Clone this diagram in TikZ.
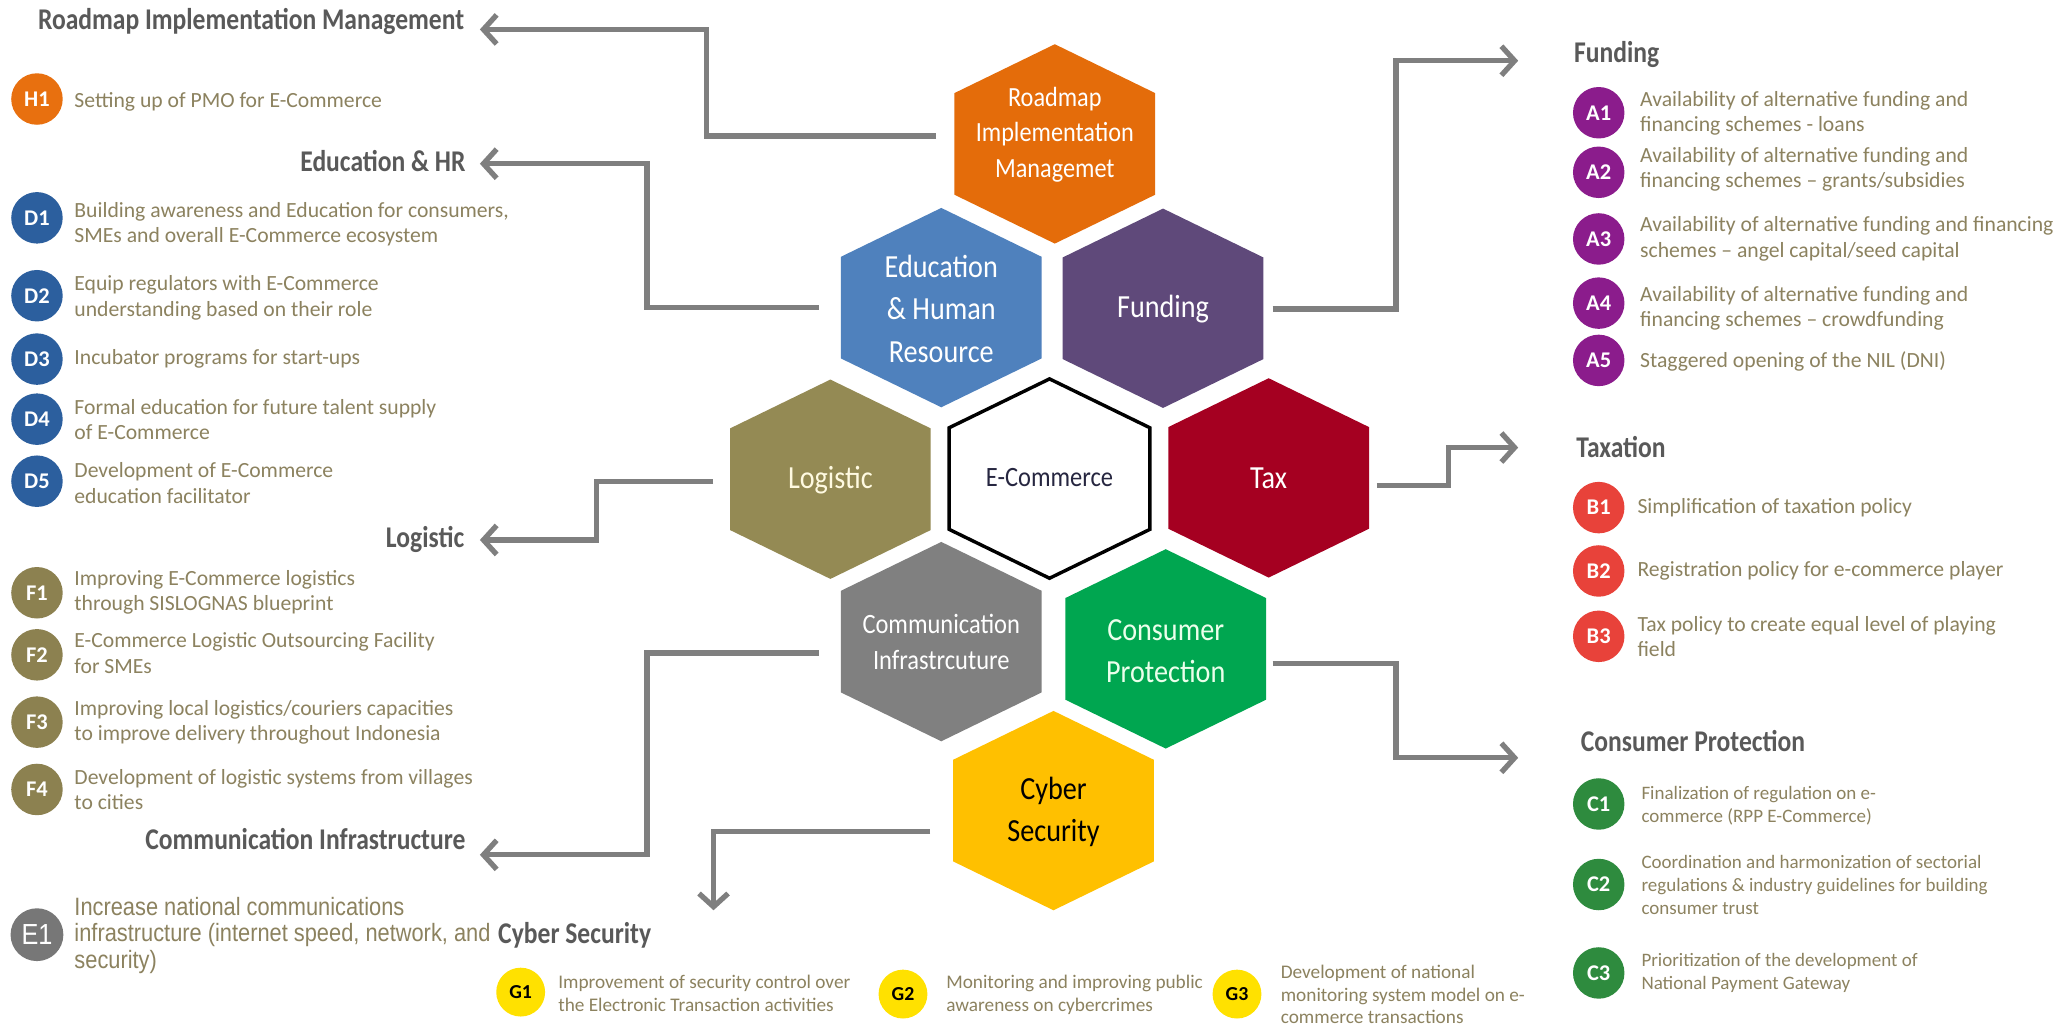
\documentclass[tikz,border=0pt]{standalone}
\usepackage{fontspec}
\setmainfont{Carlito}
\newfontfamily\hexf[FakeStretch=0.875]{Carlito}
\newfontfamily\headf[FakeStretch=0.85]{Carlito}
\newfontfamily\narrowf[FakeStretch=0.87]{Liberation Sans}
\usetikzlibrary{arrows.meta,calc}
\definecolor{horange}{HTML}{E46C0A}
\definecolor{hblue}{HTML}{4F81BD}
\definecolor{hpurple}{HTML}{5F497A}
\definecolor{holive}{HTML}{948A54}
\definecolor{hred}{HTML}{A50021}
\definecolor{hgray}{HTML}{808080}
\definecolor{hgreen}{HTML}{00A650}
\definecolor{hyellow}{HTML}{FFC000}
\definecolor{corange}{HTML}{E8700F}
\definecolor{cblue}{HTML}{2C5F9E}
\definecolor{colive}{HTML}{8C8150}
\definecolor{cgray}{HTML}{777777}
\definecolor{cpurple}{HTML}{8B1C8C}
\definecolor{cred}{HTML}{E8423A}
\definecolor{cgreen}{HTML}{2E8B3E}
\definecolor{cyellow}{HTML}{FFE100}
\definecolor{bodycol}{RGB}{140,130,95}
\definecolor{headcol}{HTML}{595959}
\definecolor{conngray}{HTML}{7F7F7F}
\definecolor{ecotext}{HTML}{262640}
\tikzset{
  hexa/.pic={\path[pic actions] (0,-75.5) -- (76,-38.5) -- (76,38.5) -- (0,75.5) -- (-76,38.5) -- (-76,-38.5) -- cycle;},
  hexlab/.style={minimum width=76pt, minimum height=75pt, inner sep=0pt, align=center},
  bigtxt/.style={font=\hexf\fontsize{12.2}{16}\selectfont},
  midtxt/.style={font=\hexf\fontsize{10.6}{13.6}\selectfont},
  conn/.style={draw=conngray, line width=2pt, -{Straight Barb[length=5pt,width=11pt]}},
  badge/.style={circle, fill=#1, minimum size=19.5pt, inner sep=0pt, text=white, font=\bfseries\fontsize{8.5}{9}\selectfont},
  gbadge/.style={circle, fill=cyellow, minimum size=18.5pt, inner sep=0pt, text=black, font=\bfseries\fontsize{7.5}{8}\selectfont},
  body/.style={anchor=west, align=left, inner sep=0pt, text=bodycol, font=\fontsize{8.2}{9.6}\selectfont},
  small/.style={body, font=\fontsize{7.2}{8.75}\selectfont},
  gtxt/.style={body, font=\fontsize{7.3}{8.5}\selectfont},
  head/.style={inner sep=0pt, text=headcol, font=\headf\bfseries\fontsize{11.4}{13}\selectfont},
}
\begin{document}
\begin{tikzpicture}[x=0.5pt,y=-0.5pt]
\fill[white] (0,0) rectangle (1568,778);
\useasboundingbox (0,0) rectangle (1568,778);

% hexagons
\pic[fill=horange] at (799,109) {hexa};
\node[hexlab, text=white, font=\hexf\fontsize{10.5}{13.6}\selectfont] (road) at (799,102) {Roadmap\\Implementation\\Managemet};
\pic[fill=hblue] at (713,233) {hexa};
\node[hexlab, bigtxt, text=white] (edu) at (713,234) {Education\\\&~Human\\Resource};
\pic[fill=hpurple] at (881,233.5) {hexa};
\node[hexlab, bigtxt, text=white] (fun) at (881,234) {Funding};
\pic[fill=holive] at (629,363) {hexa};
\node[hexlab, bigtxt, text={rgb,255:red,255;green,250;blue,225}] (log) at (629,364) {Logistic};
\pic[fill=white, draw=black, line width=1.3pt] at (795,362.5) {hexa};
\node[hexlab, midtxt, text=ecotext] (eco) at (795,362) {E-Commerce};
\pic[fill=hred] at (961,362) {hexa};
\node[hexlab, bigtxt, text=white] (tax) at (961,362) {Tax};
\pic[fill=hgray] at (713,486) {hexa};
\node[hexlab, midtxt, text=white] (com) at (713,486) {Communication\\Infrastrcuture};
\pic[fill=hgreen] at (883,491.5) {hexa};
\node[hexlab, bigtxt, text={rgb,255:red,235;green,255;blue,235}] (con) at (883,493) {Consumer\\Protection};
\pic[fill=hyellow] at (798,614) {hexa};
\node[hexlab, bigtxt, text=black] (cyb) at (798,615) {Cyber\\Security};

% titles
\node[head, anchor=base east] (troad) at (352,22.3) {Roadmap Implementation Management};
\node[head, anchor=base east] (tedu) at (353,129.9) {Education \& HR};
\node[head, anchor=base east] (tlog) at (352,414.4) {Logistic};
\node[head, anchor=base east] (tcom) at (353,643.4) {Communication Infrastructure};
\node[head, anchor=base west] (tcyb) at (377,714.4) {Cyber Security};
\node[head, anchor=base west] (tfun) at (1192,47.4) {Funding};
\node[head, anchor=base west] (ttax) at (1193.6,346.4) {Taxation};
\node[head, anchor=base west] (tcon) at (1197,569) {Consumer Protection};

% arrow tips
\coordinate (aroad) at (363.5,22.3);
\coordinate (aedu) at (363.5,124);
\coordinate (alog) at (363.5,409);
\coordinate (acom) at (363.5,647.5);
\coordinate (acyb) at (540.5,689.5);
\coordinate (afun) at (1150,46);
\coordinate (atax) at (1150,339);
\coordinate (acon) at (1150,574);

% connectors
\draw[conn] ($(road.west)+(-13.5,1)$) -| ($(aroad)+(171.5,0)$) -- (aroad);
\draw[conn] ($(edu.west)+(-16.3,-1)$) -| ($(aedu)+(126.5,0)$) -- (aedu);
\draw[conn] ($(log.west)+(-12.5,0.5)$) -| ($(alog)+(88.3,0)$) -- (alog);
\draw[conn] ($(com.west)+(-16.3,8.6)$) -| ($(acom)+(126.5,0)$) -- (acom);
\draw[conn] ($(cyb.west)+(-17,15)$) -| (acyb);
\draw[conn] ($(fun.east)+(6.5,0)$) -| ($(afun)+(-92.5,0)$) -- (afun);
\draw[conn] ($(tax.east)+(5.6,6)$) -| ($(atax)+(-52.6,0)$) -- (atax);
\draw[conn] ($(con.east)+(4.5,9.4)$) -| ($(acon)+(-92.5,0)$) -- (acon);

% left column
\node[badge=corange] (h1) at (28,75) {H1};
\node[body] (h1t) at (56,77) {Setting up of PMO for E-Commerce};
\node[badge=cblue] (d1) at (28,165) {D1};
\node[body] (d1t) at (56,170) {Building awareness and Education for consumers,\\SMEs and overall E-Commerce ecosystem};
\node[badge=cblue] (d2) at (28,224) {D2};
\node[body] (d2t) at (56,225.5) {Equip regulators with E-Commerce\\understanding based on their role};
\node[badge=cblue] (d3) at (28,272) {D3};
\node[body] (d3t) at (56,272) {Incubator programs for start-ups};
\node[badge=cblue] (d4) at (28,317.5) {D4};
\node[body] (d4t) at (56,318) {Formal education for future talent supply\\of E-Commerce};
\node[badge=cblue] (d5) at (28,364.5) {D5};
\node[body] (d5t) at (56,366) {Development of E-Commerce\\education facilitator};
\node[badge=colive] (f1) at (28,449) {F1};
\node[body] (f1t) at (56,448.5) {Improving E-Commerce logistics\\through SISLOGNAS blueprint};
\node[badge=colive] (f2) at (28,496) {F2};
\node[body] (f2t) at (56,494.8) {E-Commerce Logistic Outsourcing Facility\\for SMEs};
\node[badge=colive] (f3) at (28,547) {F3};
\node[body] (f3t) at (56,547) {Improving local logistics/couriers capacities\\to improve delivery throughout Indonesia};
\node[badge=colive] (f4) at (28,598) {F4};
\node[body] (f4t) at (56,598) {Development of logistic systems from villages\\to cities};
\node[circle, fill=cgray, minimum size=20pt, inner sep=0pt, text=white, font=\narrowf\fontsize{11}{12}\selectfont] (e1) at (28,708) {E1};
\node[body, font=\narrowf\fontsize{9.5}{10.1}\selectfont] (e1t) at (56,708.5) {Increase national communications\\infrastructure (internet speed, network, and\\security)};

% right column
\node[badge=cpurple] (a1) at (1211,85.4) {A1};
\node[body] (a1t) at (1242,86) {Availability of alternative funding and\\financing schemes - loans};
\node[badge=cpurple] (a2) at (1211,130.5) {A2};
\node[body] (a2t) at (1242,128.5) {Availability of alternative funding and\\financing schemes – grants/subsidies};
\node[badge=cpurple] (a3) at (1211,181) {A3};
\node[body] (a3t) at (1242,181) {Availability of alternative funding and financing\\schemes – angel capital/seed capital};
\node[badge=cpurple] (a4) at (1211,229.6) {A4};
\node[body] (a4t) at (1242,233.5) {Availability of alternative funding and\\financing schemes – crowdfunding};
\node[badge=cpurple] (a5) at (1211,273) {A5};
\node[body] (a5t) at (1242,274) {Staggered opening of the NIL (DNI)};
\node[badge=cred] (b1) at (1211,384.5) {B1};
\node[body] (b1t) at (1240,384.5) {Simplification of taxation policy};
\node[badge=cred] (b2) at (1211,432.5) {B2};
\node[body] (b2t) at (1240,432.5) {Registration policy for e-commerce player};
\node[badge=cred] (b3) at (1211,482) {B3};
\node[body] (b3t) at (1240,482) {Tax policy to create equal level of playing\\field};
\node[badge=cgreen] (c1) at (1211,609) {C1};
\node[small] (c1t) at (1243,610) {Finalization of regulation on e-\\commerce (RPP E-Commerce)};
\node[badge=cgreen] (c2) at (1211,670) {C2};
\node[small] (c2t) at (1243,670.5) {Coordination and harmonization of sectorial\\regulations \& industry guidelines for building\\consumer trust};
\node[badge=cgreen] (c3) at (1211,737) {C3};
\node[small] (c3t) at (1243,737) {Prioritization of the development of\\National Payment Gateway};

% cyber security row
\node[gbadge] (g1) at (394.4,751.5) {G1};
\node[gtxt] (g1t) at (422.5,752.5) {Improvement of security control over\\the Electronic Transaction activities};
\node[gbadge] (g2) at (684,753) {G2};
\node[gtxt] (g2t) at (716.4,753.5) {Monitoring and improving public\\awareness on cybercrimes};
\node[gbadge] (g3) at (937,753) {G3};
\node[gtxt] (g3t) at (969.8,753.5) {Development of national\\monitoring system model on e-\\commerce transactions};
\end{tikzpicture}
\end{document}
